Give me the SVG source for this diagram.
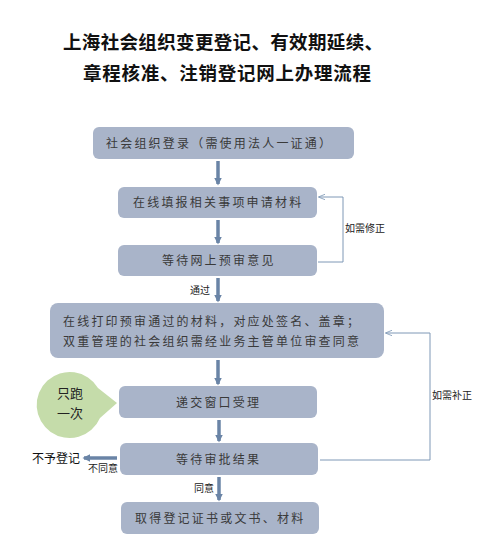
<svg xmlns="http://www.w3.org/2000/svg" width="504" height="544" viewBox="0 0 504 544">
<style>
.title{font-family:"Noto Sans CJK SC",sans-serif;font-weight:bold;font-size:18.5px;fill:#111;}
.box{fill:#a9b4c9;}
.bt{font-family:"Noto Sans CJK SC",sans-serif;font-size:12px;fill:#3a3a3a;letter-spacing:2.2px;}
.lbl{font-family:"Noto Sans CJK SC",sans-serif;font-size:10px;fill:#222;}
.flow{stroke:#6a84a6;stroke-width:3.5;fill:none;}
.fb{stroke:#7f98b6;stroke-width:1;fill:none;}
</style>
<defs>
<marker id="ah" viewBox="0 0 10 10" refX="8" refY="5" markerWidth="2.2" markerHeight="2.2" orient="auto"><path d="M0,0L10,5L0,10z" fill="#6a84a6"/></marker>
<marker id="thin" viewBox="0 0 10 10" refX="9" refY="5" markerWidth="7" markerHeight="7" orient="auto" markerUnits="userSpaceOnUse"><path d="M0,1L10,5L0,9" fill="none" stroke="#7f98b6" stroke-width="1.2"/></marker>
</defs>
<g id="title">
<text class="title" x="63" y="49" textLength="320">上海社会组织变更登记、有效期延续、</text>
<text class="title" x="83" y="80" textLength="288">章程核准、注销登记网上办理流程</text>
</g>
<g id="connectors">
<line class="flow" x1="218" y1="161" x2="218" y2="184" marker-end="url(#ah)"/>
<line class="flow" x1="218" y1="220" x2="218" y2="243" marker-end="url(#ah)"/>
<line class="flow" x1="218" y1="278" x2="218" y2="301" marker-end="url(#ah)"/>
<line class="flow" x1="218" y1="360" x2="218" y2="384" marker-end="url(#ah)"/>
<line class="flow" x1="219" y1="420" x2="219" y2="441" marker-end="url(#ah)"/>
<line class="flow" x1="219" y1="477" x2="219" y2="500" marker-end="url(#ah)"/>
<line class="flow" x1="117" y1="458" x2="84" y2="458" marker-end="url(#ah)"/>
<path class="fb" d="M318,262 H343 V197 H319" marker-end="url(#thin)"/>
<path class="fb" d="M320,460 H430 V333 H386" marker-end="url(#thin)"/>
<text class="lbl" x="345" y="232">如需修正</text>
<text class="lbl" x="432" y="399">如需补正</text>
<text class="lbl" x="190" y="294">通过</text>
<text class="lbl" x="194" y="492">同意</text>
<text class="lbl" x="88" y="472">不同意</text>
</g>
<g id="n1"><rect class="box" x="93" y="127" width="261" height="32" rx="6"/><text class="bt" x="106" y="148">社会组织登录（需使用法人一证通）</text></g>
<g id="n2"><rect class="box" x="118" y="187" width="199" height="31" rx="6"/><text class="bt" x="133" y="207">在线填报相关事项申请材料</text></g>
<g id="n3"><rect class="box" x="118" y="245" width="199" height="31" rx="6"/><text class="bt" x="162" y="265">等待网上预审意见</text></g>
<g id="n4"><rect class="box" x="50" y="303" width="334" height="55" rx="8"/><text class="bt" x="63" y="326" letter-spacing="2.1">在线打印预审通过的材料，对应处签名、盖章；</text><text class="bt" x="63" y="346" letter-spacing="2.3">双重管理的社会组织需经业务主管单位审查同意</text></g>
<g id="n5"><rect class="box" x="119" y="386" width="198" height="32" rx="6"/><text class="bt" x="176" y="407">递交窗口受理</text></g>
<g id="n6"><rect class="box" x="120" y="443" width="198" height="32" rx="6"/><text class="bt" x="176" y="464">等待审批结果</text></g>
<g id="n7"><rect class="box" x="121" y="502" width="198" height="32" rx="6"/><text class="bt" x="135" y="523">取得登记证书或文书、材料</text></g>
<g id="bubble"><path d="M98,388 A33,33 0 1 0 100,418 L117,403 Z" fill="#c5dcaa"/><text x="70" y="398" font-family="'Noto Sans CJK SC',sans-serif" font-size="13" text-anchor="middle" fill="#222">只跑</text><text x="70" y="418" font-family="'Noto Sans CJK SC',sans-serif" font-size="13" text-anchor="middle" fill="#222">一次</text></g>
<g id="reject"><text x="32" y="463" font-family="'Noto Sans CJK SC',sans-serif" font-size="12" fill="#111">不予登记</text></g>
</svg>
